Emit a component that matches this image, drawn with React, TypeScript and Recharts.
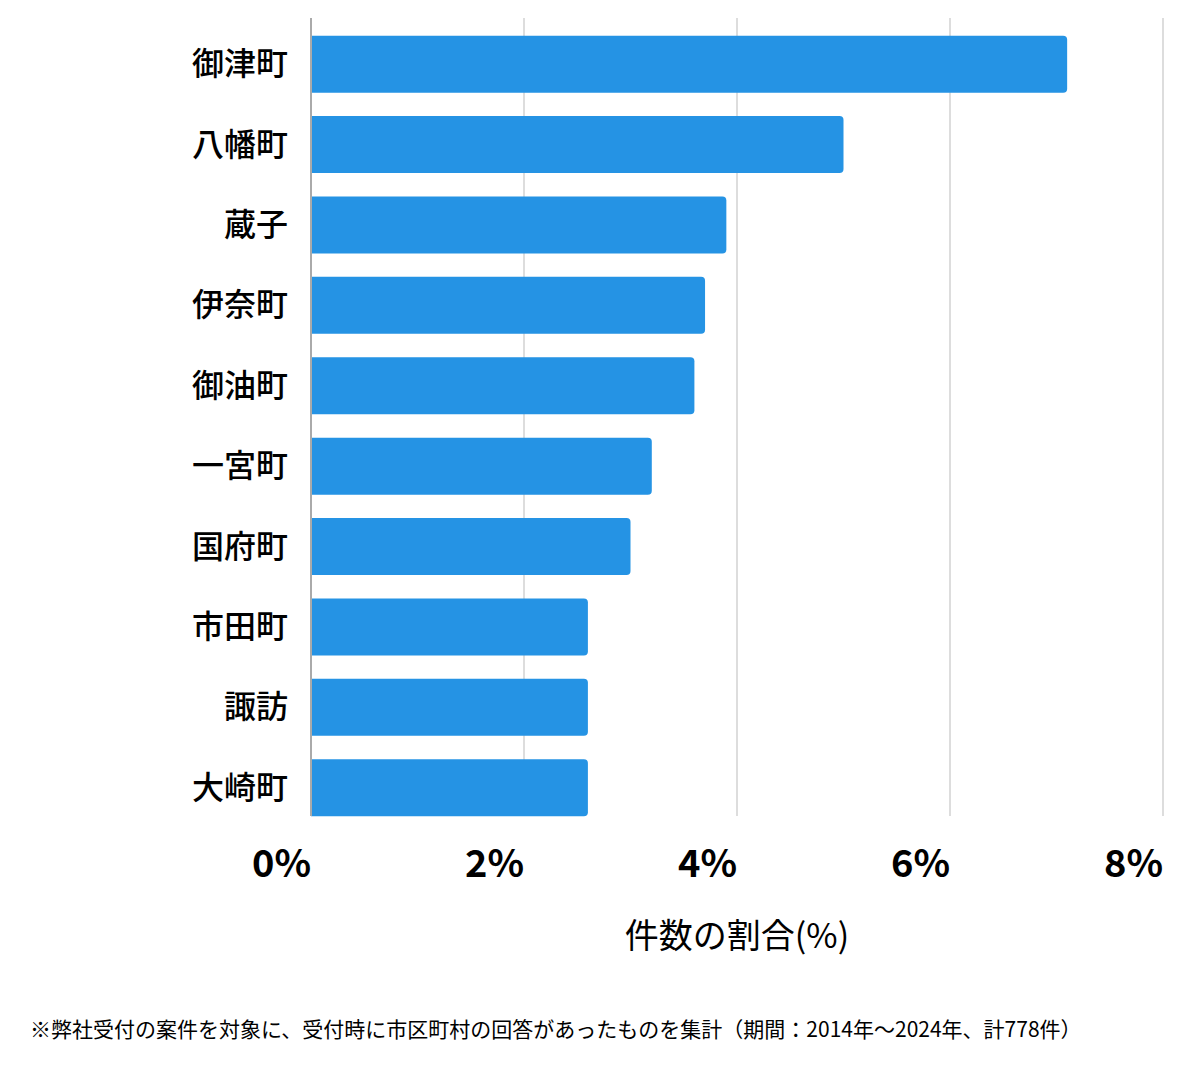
import React from "react";
import { BarChart, Bar, XAxis, YAxis, CartesianGrid, Label } from "recharts";

const categories = ["御津町", "八幡町", "蔵子", "伊奈町", "御油町", "一宮町", "国府町", "市田町", "諏訪", "大崎町"];
const shares = [7.1, 5.0, 3.9, 3.7, 3.6, 3.2, 3.0, 2.6, 2.6, 2.6];
const xTicks = [0, 2, 4, 6, 8];
const axisTitle = "件数の割合(%)";
const footnote = "※弊社受付の案件を対象に、受付時に市区町村の回答があったものを集計（期間：2014年～2024年、計778件）";

const data = categories.map((name, i) => ({ name, value: shares[i] }));
const FONT = '"Noto Sans CJK JP", "Noto Sans", sans-serif';

const XTick = (props: any) => {
  const { x, y, payload } = props;
  return (
    <text x={x} y={y} dy={53} textAnchor="end" fontSize={38} fontWeight={700} fill="#000" fontFamily={FONT}>
      {payload.value}%
    </text>
  );
};

const YTick = (props: any) => {
  const { x, y, payload } = props;
  return (
    <text x={x} y={y} dy={11} textAnchor="end" fontSize={32} fontWeight={500} fill="#000" fontFamily={FONT}>
      {payload.value}
    </text>
  );
};

export default function App() {
  return (
    <div style={{ position: "absolute", left: 0, top: 0, width: 1200, height: 1069, background: "#fff", fontFamily: FONT }}>
      <BarChart
        width={1200}
        height={961}
        data={data}
        layout="vertical"
        margin={{ top: 18, right: 37, left: 0, bottom: 0 }}
        barCategoryGap="14.5%"
      >
        <CartesianGrid horizontal={false} stroke="#dddddd" strokeWidth={2} />
        <XAxis
          type="number"
          domain={[0, 8]}
          ticks={xTicks}
          axisLine={false}
          tickLine={false}
          tick={<XTick />}
          height={145}
        >
          <Label value={axisTitle} position="insideBottom" offset={13} fontSize={34} fill="#000" fontFamily={FONT} />
        </XAxis>
        <YAxis
          type="category"
          dataKey="name"
          width={311}
          axisLine={{ stroke: "#aaaaaa", strokeWidth: 2 }}
          tickLine={false}
          tick={<YTick />}
          tickMargin={17}
          interval={0}
          padding={{ top: 6, bottom: -12 }}
        />
        <Bar dataKey="value" fill="#2593E4" radius={[0, 4, 4, 0]} isAnimationActive={false} />
      </BarChart>
      <div style={{ position: "absolute", left: 30, top: 1013, fontSize: 21, color: "#000", whiteSpace: "nowrap" }}>
        {footnote}
      </div>
    </div>
  );
}
